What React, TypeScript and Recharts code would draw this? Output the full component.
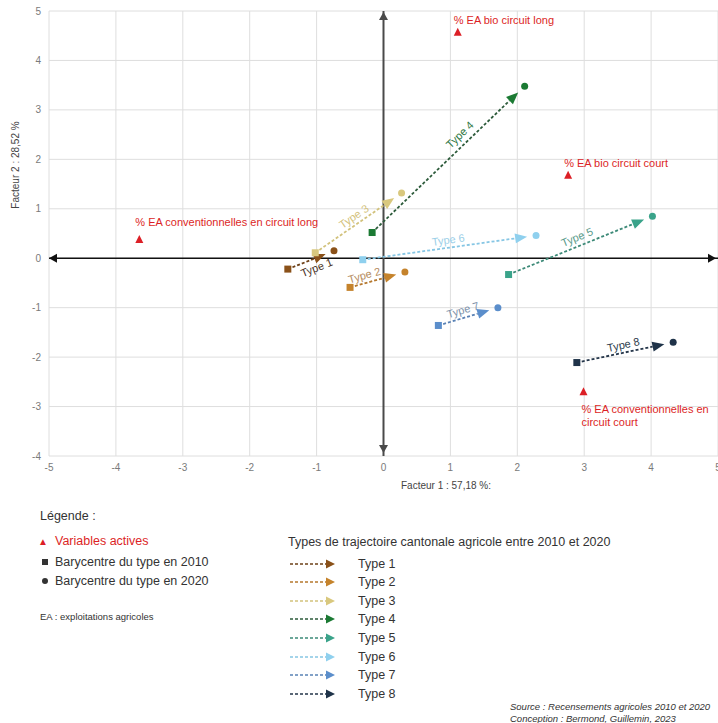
import React from 'react';
import { ScatterChart, Scatter, XAxis, YAxis, CartesianGrid, ReferenceLine } from 'recharts';

// Types de trajectoire : barycentres 2010 -> 2020
const TYPES = ['Type 1', 'Type 2', 'Type 3', 'Type 4', 'Type 5', 'Type 6', 'Type 7', 'Type 8'];
const X_2010 = [-1.43, -0.5, -1.02, -0.17, 1.87, -0.31, 0.82, 2.89];
const Y_2010 = [-0.22, -0.59, 0.11, 0.52, -0.33, -0.03, -1.36, -2.11];
const X_2020 = [-0.74, 0.32, 0.27, 2.11, 4.02, 2.28, 1.71, 4.33];
const Y_2020 = [0.15, -0.28, 1.32, 3.48, 0.85, 0.46, -1.0, -1.7];

// Variables actives
const VARIABLES = [
  '% EA bio circuit long',
  '% EA bio circuit court',
  '% EA conventionnelles en circuit long',
  '% EA conventionnelles en circuit court',
];
const VAR_X = [1.11, 2.76, -3.65, 2.99];
const VAR_Y = [4.57, 1.68, 0.38, -2.7];

const X_TICKS = [-5, -4, -3, -2, -1, 0, 1, 2, 3, 4, 5];
const Y_TICKS = [-4, -3, -2, -1, 0, 1, 2, 3, 4, 5];

const COLORS = ['#8a5119', '#c5832c', '#d9c87e', '#1b7a33', '#3aa38a', '#8fd0ee', '#5b8ecb', '#1f3349'];
const LINE_COLORS = ['#6e4118', '#b5782e', '#d2c27c', '#2d5b3b', '#3d8a78', '#86c6e4', '#5a82b5', '#25364a'];
const LABEL_COLORS = ['#4b3426', '#b58b5c', '#d3c27c', '#2f7845', '#5b9b8b', '#9bcfe8', '#7b91aa', '#2b3b4b'];

const RED = '#dc1f26';
const FONT = '"Liberation Sans", Arial, Helvetica, sans-serif';

// placement des étiquettes "Type n" le long des flèches
const LABEL_POS: Record<string, { t: number; off: number }> = {
  'Type 1': { t: 0.55, off: -9 },
  'Type 2': { t: 0.3, off: 8 },
  'Type 3': { t: 0.5, off: 8 },
  'Type 4': { t: 0.62, off: 10 },
  'Type 5': { t: 0.5, off: 9 },
  'Type 6': { t: 0.5, off: 8 },
  'Type 7': { t: 0.45, off: 8 },
  'Type 8': { t: 0.5, off: 8 },
};

// placement des libellés des variables (relatif au triangle)
const VAR_LABEL: Record<string, { dx: number; dy: number; lines: string[] }> = {
  '% EA bio circuit long': { dx: -4, dy: -12, lines: ['% EA bio circuit long'] },
  '% EA bio circuit court': { dx: -4, dy: -12, lines: ['% EA bio circuit court'] },
  '% EA conventionnelles en circuit long': { dx: -4, dy: -17, lines: ['% EA conventionnelles en circuit long'] },
  '% EA conventionnelles en circuit court': { dx: -2, dy: 17, lines: ['% EA conventionnelles en', 'circuit court'] },
};

const points2010 = TYPES.map((name, i) => ({ name, x: X_2010[i], y: Y_2010[i] }));
const points2020 = TYPES.map((name, i) => ({ name, x: X_2020[i], y: Y_2020[i] }));
const variables = VARIABLES.map((name, i) => ({ name, x: VAR_X[i], y: VAR_Y[i] }));

function TrajectoryArrow(props: any) {
  const { x1, y1, x2, y2, idx } = props;
  const name = TYPES[idx];
  const dx = x2 - x1;
  const dy = y2 - y1;
  const len = Math.sqrt(dx * dx + dy * dy);
  const ux = dx / len;
  const uy = dy / len;
  const tipX = x2 - ux * 9;
  const tipY = y2 - uy * 9;
  const baseX = tipX - ux * 12;
  const baseY = tipY - uy * 12;
  const nx = -uy;
  const ny = ux;
  const pos = LABEL_POS[name];
  const lx = x1 + dx * pos.t + uy * pos.off;
  const ly = y1 + dy * pos.t - ux * pos.off;
  const angle = (Math.atan2(dy, dx) * 180) / Math.PI;
  return (
    <g>
      <line x1={x1} y1={y1} x2={baseX} y2={baseY} stroke={LINE_COLORS[idx]} strokeWidth={1.8} strokeDasharray="3 2" />
      <polygon
        points={`${tipX},${tipY} ${baseX + nx * 5},${baseY + ny * 5} ${baseX - nx * 5},${baseY - ny * 5}`}
        fill={COLORS[idx]}
      />
      <text
        x={lx}
        y={ly}
        textAnchor="middle"
        dominantBaseline="central"
        fontSize={11}
        fontFamily={FONT}
        fill={LABEL_COLORS[idx]}
        transform={`rotate(${angle}, ${lx}, ${ly})`}
      >
        {name}
      </text>
    </g>
  );
}

function AxisArrow(props: any) {
  const { x1, y1, x2, y2, color, width } = props;
  const horizontal = Math.abs(y2 - y1) < 1;
  const a = 8;
  const h = 4.5;
  let heads;
  if (horizontal) {
    heads = (
      <>
        <polygon points={`${x1},${y1} ${x1 + a},${y1 - h} ${x1 + a},${y1 + h}`} fill={color} />
        <polygon points={`${x2 - 2},${y2} ${x2 - 2 - a},${y2 - h} ${x2 - 2 - a},${y2 + h}`} fill={color} />
      </>
    );
  } else {
    heads = (
      <>
        <polygon points={`${x1},${y1 + 1} ${x1 - h},${y1 + 1 + a} ${x1 + h},${y1 + 1 + a}`} fill={color} />
        <polygon points={`${x2},${y2 - 3} ${x2 - h},${y2 - 3 - a} ${x2 + h},${y2 - 3 - a}`} fill={color} />
      </>
    );
  }
  return (
    <g>
      <line x1={x1} y1={y1} x2={x2} y2={y2} stroke={color} strokeWidth={width} />
      {heads}
    </g>
  );
}

const renderSquare = (p: any) => {
  const i = TYPES.indexOf(p.payload.name);
  return <rect x={p.cx - 3.5} y={p.cy - 3.5} width={7} height={7} fill={COLORS[i]} />;
};

const renderCircle = (p: any) => {
  const i = TYPES.indexOf(p.payload.name);
  return <circle cx={p.cx} cy={p.cy} r={3.5} fill={COLORS[i]} />;
};

const renderVariable = (p: any) => {
  const lab = VAR_LABEL[p.payload.name];
  const { cx, cy } = p;
  return (
    <g>
      <polygon points={`${cx},${cy - 4.5} ${cx - 4},${cy + 3.5} ${cx + 4},${cy + 3.5}`} fill={RED} />
      {lab.lines.map((line, k) => (
        <text
          key={k}
          x={cx + lab.dx}
          y={cy + lab.dy + k * 13}
          dominantBaseline="central"
          fontSize={11}
          fontFamily={FONT}
          fill={RED}
        >
          {line}
        </text>
      ))}
    </g>
  );
};

function LegendArrow({ color, line }: { color: string; line: string }) {
  return (
    <svg width={48} height={12} style={{ display: 'block' }}>
      <line x1={1} y1={6} x2={37} y2={6} stroke={line} strokeWidth={1.5} strokeDasharray="3 2" />
      <polygon points="46,6 37,1.5 37,10.5" fill={color} />
    </svg>
  );
}

export default function App() {
  return (
    <div
      style={{
        position: 'absolute',
        left: 0,
        top: 0,
        width: 718,
        height: 723,
        overflow: 'hidden',
        background: '#ffffff',
        fontFamily: FONT,
      }}
    >
      <ScatterChart width={718} height={486} margin={{ top: 11, right: 0, bottom: 0, left: 0 }}>
        <CartesianGrid stroke="#dedede" strokeWidth={1} verticalValues={X_TICKS} horizontalValues={Y_TICKS} />
        <XAxis
          type="number"
          dataKey="x"
          domain={[-5, 5]}
          ticks={X_TICKS}
          axisLine={false}
          tickLine={false}
          tick={{ fontSize: 10, fill: '#7a7a7a', fontFamily: FONT }}
          interval={0}
        />
        <YAxis
          type="number"
          dataKey="y"
          domain={[-4, 5]}
          ticks={Y_TICKS}
          axisLine={false}
          tickLine={false}
          width={49}
          tick={{ fontSize: 10, fill: '#7a7a7a', fontFamily: FONT }}
          interval={0}
        />
        <ReferenceLine
          segment={[{ x: -5, y: 0 }, { x: 5, y: 0 }]}
          ifOverflow="visible"
          shape={(p: any) => <AxisArrow {...p} color="#111111" width={1.5} />}
        />
        <ReferenceLine
          segment={[{ x: 0, y: 5 }, { x: 0, y: -4 }]}
          ifOverflow="visible"
          shape={(p: any) => <AxisArrow {...p} color="#4a4a4a" width={2} />}
        />
        {TYPES.map((name, i) => (
          <ReferenceLine
            key={name}
            segment={[{ x: X_2010[i], y: Y_2010[i] }, { x: X_2020[i], y: Y_2020[i] }]}
            ifOverflow="visible"
            shape={(p: any) => <TrajectoryArrow {...p} idx={i} />}
          />
        ))}
        <Scatter name="Barycentre 2010" data={points2010} shape={renderSquare} isAnimationActive={false} />
        <Scatter name="Barycentre 2020" data={points2020} shape={renderCircle} isAnimationActive={false} />
        <Scatter name="Variables actives" data={variables} shape={renderVariable} isAnimationActive={false} />
      </ScatterChart>

      {/* titres des axes */}
      <div
        style={{
          position: 'absolute',
          left: 15,
          top: 165,
          transform: 'translate(-50%, -50%) rotate(-90deg)',
          fontSize: 10,
          color: '#444',
          whiteSpace: 'nowrap',
        }}
      >
        Facteur 2 : 28,52 %
      </div>
      <div
        style={{
          position: 'absolute',
          left: 446,
          top: 485,
          transform: 'translate(-50%, -50%)',
          fontSize: 10,
          color: '#444',
          whiteSpace: 'nowrap',
        }}
      >
        Facteur 1 : 57,18 %:
      </div>

      {/* légende gauche */}
      <div style={{ position: 'absolute', left: 40, top: 509, fontSize: 12.5, color: '#333' }}>Légende :</div>
      <div style={{ position: 'absolute', left: 38, top: 534, fontSize: 12.5, color: RED, display: 'flex', alignItems: 'center' }}>
        <span style={{ width: 17, fontSize: 10 }}>▲</span>Variables actives
      </div>
      <div style={{ position: 'absolute', left: 38, top: 555, fontSize: 12.5, color: '#333', display: 'flex', alignItems: 'center' }}>
        <span style={{ width: 17, display: 'inline-flex', justifyContent: 'center' }}>
          <span style={{ width: 6, height: 6, background: '#333', display: 'inline-block', marginRight: 4 }} />
        </span>
        Barycentre du type en 2010
      </div>
      <div style={{ position: 'absolute', left: 38, top: 574, fontSize: 12.5, color: '#333', display: 'flex', alignItems: 'center' }}>
        <span style={{ width: 17, display: 'inline-flex', justifyContent: 'center' }}>
          <span style={{ width: 6, height: 6, borderRadius: 3, background: '#333', display: 'inline-block', marginRight: 4 }} />
        </span>
        Barycentre du type en 2020
      </div>
      <div style={{ position: 'absolute', left: 40, top: 611, fontSize: 9.5, color: '#333' }}>EA : exploitations agricoles</div>

      {/* légende droite */}
      <div style={{ position: 'absolute', left: 288, top: 535, fontSize: 12.5, color: '#333', whiteSpace: 'nowrap' }}>
        Types de trajectoire cantonale agricole entre 2010 et 2020
      </div>
      {TYPES.map((name, i) => (
        <div
          key={name}
          style={{ position: 'absolute', left: 289, top: 556 + i * 18.6, display: 'flex', alignItems: 'center', height: 15 }}
        >
          <LegendArrow color={COLORS[i]} line={LINE_COLORS[i]} />
          <span style={{ marginLeft: 21, fontSize: 12.5, color: '#333' }}>{name}</span>
        </div>
      ))}

      {/* source */}
      <div
        style={{
          position: 'absolute',
          left: 510,
          top: 701,
          fontSize: 9.5,
          fontStyle: 'italic',
          color: '#333',
          lineHeight: '11.5px',
          whiteSpace: 'nowrap',
        }}
      >
        Source : Recensements agricoles 2010 et 2020
        <br />
        Conception : Bermond, Guillemin, 2023
      </div>
    </div>
  );
}
